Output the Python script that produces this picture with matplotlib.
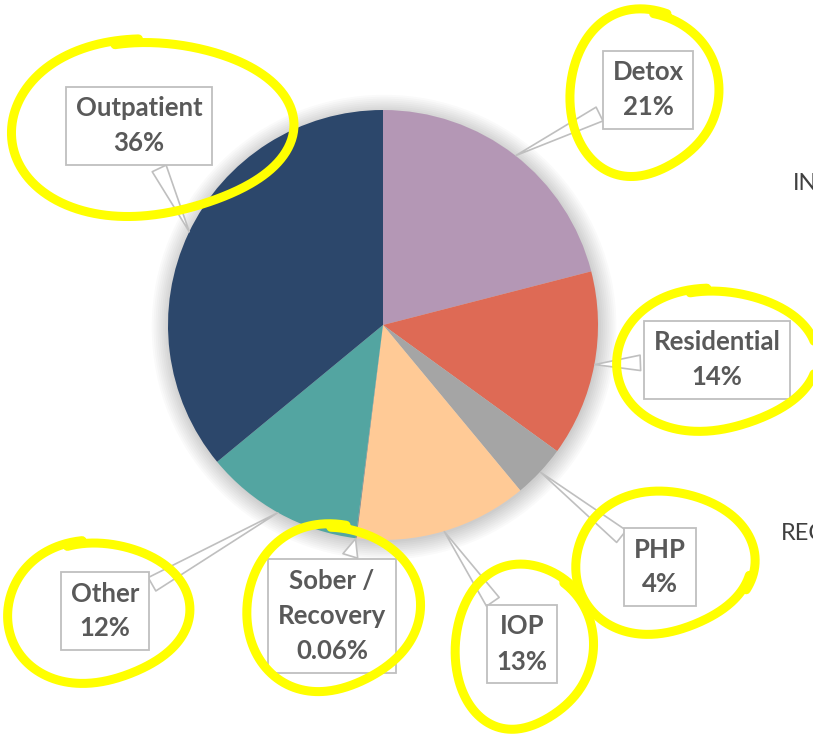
import matplotlib.pyplot as plt
import numpy as np
from matplotlib.patches import Circle

# pie data, clockwise from 12 o'clock
categories = ['Detox', 'Residential', 'PHP', 'IOP', 'Sober /\nRecovery', 'Other', 'Outpatient']
values = [21, 14, 4, 13, 0.06, 12, 36]
pct_labels = ['21%', '14%', '4%', '13%', '0.06%', '12%', '36%']
colors = ['#B497B5', '#DE6A55', '#A5A5A5', '#FFCA96', '#7F7F7F', '#53A5A1', '#2C476B']

# callout box centres, in pixels of the 813x738 image
label_pos = [(648, 90), (717, 360), (660, 567), (522, 644), (332, 616), (105, 611), (139, 126)]

W, H = 813, 738
CX, CY, R = 383, 325, 215


def px(x, y):
    return ((x - CX) / R, -(y - CY) / R)


fig = plt.figure(figsize=(W / 100, H / 100), dpi=100)
ax = fig.add_axes([0, 0, 1, 1])

# soft glow around the pie
for k in range(10):
    ax.add_patch(Circle((0.005, -0.01), 1.0 + 0.009 * k, color='#000000',
                        alpha=0.018, lw=0, zorder=0))

wedges, _ = ax.pie(values, colors=colors, startangle=90, counterclock=False,
                   radius=1.0, wedgeprops=dict(linewidth=0))
for w in wedges:
    w.set_zorder(1)

ax.set_xlim(px(0, 0)[0], px(W, 0)[0])
ax.set_ylim(px(0, H)[1], px(0, 0)[1])
ax.set_aspect('equal')
ax.axis('off')

fam = ['Lato', 'DejaVu Sans']
total = sum(values)
cum = 0.0
for i, v in enumerate(values):
    mid = (cum + v / 2) / total * 360
    cum += v
    ang = np.deg2rad(90 - mid)
    tip = (0.99 * np.cos(ang), 0.99 * np.sin(ang))
    ax.annotate(categories[i] + '\n' + pct_labels[i], xy=tip, xytext=px(*label_pos[i]),
                ha='center', va='center', fontsize=18.5, fontweight='bold',
                family=fam, color='#595959', linespacing=1.55, zorder=5,
                bbox=dict(boxstyle='square,pad=0.38', fc='white', ec='#BFBFBF', lw=1.3),
                arrowprops=dict(arrowstyle='wedge,tail_width=0.6,shrink_factor=0.5',
                                fc='white', ec='#BFBFBF', lw=1.2))

# cut-off slide text on the right edge
ax.text(*px(793, 184), 'IN', fontsize=17, family=fam, color='#404040', va='center', ha='left')
ax.text(*px(781, 534), 'REC', fontsize=17, family=fam, color='#404040', va='center', ha='left')

# yellow hand-drawn loops around the labels: centre, radii, start angle (deg)
loops = [
    (150, 128, 138, 93, 95),
    (643, 93, 73, 88, 70),
    (715, 360, 98, 75, 95),
    (662, 563, 87, 76, -20),
    (523, 647, 68, 87, 40),
    (332, 608, 85, 88, 80),
    (97, 612, 89, 75, 100),
]
for cx, cy, rx, ry, a0 in loops:
    t = np.linspace(0, 2 * np.pi * 1.03, 300)
    th = np.deg2rad(a0) + t
    wob = 1 + 0.05 * np.sin(2 * th + 1.0) + 0.03 * np.cos(3 * th) - 0.04 * t / (2 * np.pi)
    xs = cx + rx * wob * np.cos(th)
    ys = cy - ry * wob * np.sin(th)
    pts = np.array([px(x, y) for x, y in zip(xs, ys)])
    ax.plot(pts[:, 0], pts[:, 1], color='#FFFF00', lw=6.5, solid_capstyle='round',
            solid_joinstyle='round', zorder=10)

plt.savefig('out.png', dpi=100)
